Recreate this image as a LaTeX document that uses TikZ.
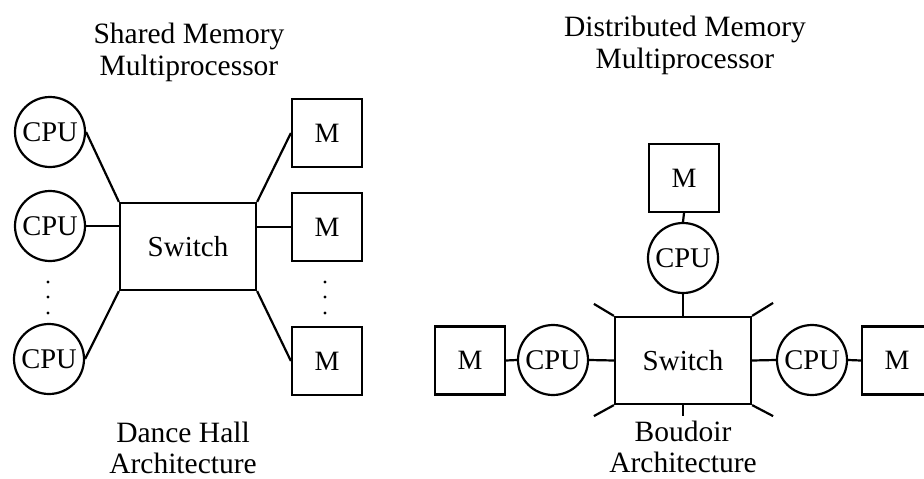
\documentclass[tikz,border=0pt]{standalone}
\usepackage{fontspec}
\setmainfont{Liberation Serif}
\begin{document}
\begin{tikzpicture}[x=1pt,y=-1pt,
  lbl/.style={font=\fontsize{29.5}{32}\selectfont, inner sep=0pt},
  cpu/.style={draw, circle, line width=2.2pt, minimum size=70pt, inner sep=0pt, font=\fontsize{28.5}{32}\selectfont},
  mem/.style={draw, rectangle, line width=2.2pt, minimum width=70pt, minimum height=68pt, inner sep=0pt, font=\fontsize{28}{32}\selectfont},
  sw/.style={draw, rectangle, line width=2.2pt, minimum width=136pt, minimum height=87pt, inner sep=0pt, font=\fontsize{29}{32}\selectfont},
  captxt/.style={lbl, align=center},
  lowcap/.style={font=\fontsize{29.5}{31}\selectfont, inner sep=0pt, align=center},
  wire/.style={line width=2.2pt},
  dotfill/.style={fill=black}]
\useasboundingbox (0,0) rectangle (924,479);
% ---- left: shared memory
\node[captxt] (t1) at (189,52) {Shared Memory\\Multiprocessor};
\node[cpu] (c1) at (50,132) {CPU};
\node[cpu] (c2) at (50,226) {CPU};
\node[cpu] (c3) at (49,359) {CPU};
\node[sw] (s1) at (188,246.5) {Switch};
\node[mem] (m1) at (327,133) {M};
\node[mem] (m2) at (327,227) {M};
\node[mem] (m3) at (327,361) {M};
\foreach \y in {282,297,313}{\fill[dotfill] (48,\y) circle (1.7); \fill[dotfill] (325,\y) circle (1.7);}
\draw[wire] (c1.east) -- (s1.north west);
\draw[wire] (c2.east) -- (c2.east -| s1.west);
\draw[wire] (c3.east) -- (s1.south west);
\draw[wire] (s1.north east) -- (m1.west);
\draw[wire] (m2.west) -- (m2.west -| s1.east);
\draw[wire] (s1.south east) -- (m3.west);
\node[lowcap] (b1) at (183,448) {Dance Hall\\Architecture};
% ---- right: distributed memory
\node[captxt] (t2) at (685,45) {Distributed Memory\\Multiprocessor};
\node[mem] (mt) at (684,178) {M};
\node[cpu] (ct) at (683,258) {CPU};
\node[sw] (s2) at (683,360.5) {Switch};
\node[cpu] (cl) at (553,360) {CPU};
\node[mem] (ml) at (470,360.5) {M};
\node[cpu] (cr) at (812,360) {CPU};
\node[mem] (mr) at (897,360.5) {M};
\draw[wire] (mt.south) -- (ct.north);
\draw[wire] (ct.south) -- (s2.north);
\draw[wire] (ml.east) -- (cl.west);
\draw[wire] (cl.east) -- (s2.west);
\draw[wire] (s2.east) -- (cr.west);
\draw[wire] (cr.east) -- (mr.west);
\draw[wire] (s2.north west) -- ++(-20,-12);
\draw[wire] (s2.north east) -- ++(21,-13);
\draw[wire] (s2.south west) -- ++(-20,11);
\draw[wire] (s2.south east) -- ++(21,11);
\draw[wire] (s2.south) -- ++(0,11);
\node[lowcap] (b2) at (683,447) {Boudoir\\Architecture};
\end{tikzpicture}
\end{document}
